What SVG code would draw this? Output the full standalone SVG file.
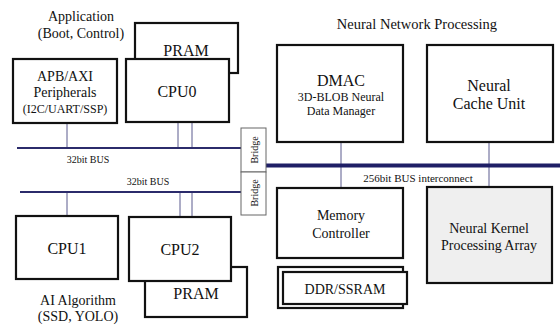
<svg xmlns="http://www.w3.org/2000/svg" width="560" height="325" viewBox="0 0 560 325">
<style>
text{font-family:'Liberation Serif','Times New Roman',serif;fill:#111;text-anchor:middle}
.box{fill:#fff;stroke:#111;stroke-width:2.2}
.gray{fill:#efefef;stroke:#111;stroke-width:2.2}
.bridge{fill:#fff;stroke:#666;stroke-width:1}
.bus{stroke:#2b2b6b;stroke-width:2;fill:none}
.bigbus{stroke:#1f1f66;stroke-width:4;fill:none}
.conn{stroke:#5a5a8e;stroke-width:1;fill:none}
.t16{font-size:16px}
.t14{font-size:14px}
.t12{font-size:12px}
.t11{font-size:11px}
.t10{font-size:10px}
</style>
<rect width="560" height="325" fill="#fff"/>
<g id="labels">
<text class="t14" x="81" y="21">Application</text>
<text class="t14" x="81" y="38">(Boot, Control)</text>
<text class="t14" x="417" y="29" style="font-size:14.5px">Neural Network Processing</text>
<text class="t14" x="78" y="305">AI Algorithm</text>
<text class="t14" x="78" y="321">(SSD, YOLO)</text>
<text class="t10" x="88" y="163">32bit BUS</text>
<text class="t10" x="148" y="185">32bit BUS</text>
<text class="t11" x="418" y="182">256bit BUS interconnect</text>
</g>
<g id="connectors">
<line class="conn" x1="67" y1="123" x2="67" y2="148"/>
<line class="conn" x1="178" y1="122" x2="178" y2="148"/>
<line class="conn" x1="192" y1="122" x2="192" y2="148"/>
<line class="conn" x1="67" y1="192" x2="67" y2="216"/>
<line class="conn" x1="180" y1="192" x2="180" y2="217"/>
<line class="conn" x1="192" y1="192" x2="192" y2="219"/>
<line class="conn" x1="341" y1="142" x2="341" y2="188"/>
<line class="conn" x1="489" y1="142" x2="489" y2="187"/>
<line class="bus" x1="17" y1="148" x2="242" y2="148"/>
<line class="bus" x1="20" y1="192" x2="241" y2="192"/>
<line class="bigbus" x1="266" y1="165.5" x2="560" y2="165.5"/>
</g>
<g id="pram-top">
<rect class="box" x="135" y="23" width="103" height="50"/>
<text class="t16" x="186" y="56">PRAM</text>
</g>
<g id="apb">
<rect class="box" x="13" y="59" width="104" height="64"/>
<text class="t14" x="65" y="81">APB/AXI</text>
<text class="t14" x="65" y="97">Peripherals</text>
<text class="t12" x="65" y="113">(I2C/UART/SSP)</text>
</g>
<g id="cpu0">
<rect class="box" x="126" y="59" width="103" height="63"/>
<text class="t16" x="177" y="97">CPU0</text>
</g>
<g id="bridge1">
<rect class="bridge" x="241" y="128" width="25" height="44"/>
<text class="t10" transform="translate(257.5,150) rotate(-90)">Bridge</text>
</g>
<g id="bridge2">
<rect class="bridge" x="241" y="172" width="25" height="43"/>
<text class="t10" transform="translate(257.5,193) rotate(-90)">Bridge</text>
</g>
<g id="dmac">
<rect class="box" x="277" y="45" width="126" height="97"/>
<text class="t16" x="341" y="86">DMAC</text>
<text class="t12" x="341" y="101">3D-BLOB Neural</text>
<text class="t12" x="341" y="115">Data Manager</text>
</g>
<g id="cache">
<rect class="box" x="427" y="45" width="126" height="97"/>
<text class="t16" x="489" y="91">Neural</text>
<text class="t16" x="489" y="109">Cache Unit</text>
</g>
<g id="memctrl">
<rect class="box" x="277" y="188" width="126" height="70"/>
<text class="t14" x="341" y="220">Memory</text>
<text class="t14" x="341" y="238">Controller</text>
</g>
<g id="nkpa">
<rect class="gray" x="427" y="187" width="125" height="96"/>
<text class="t14" x="489" y="233">Neural Kernel</text>
<text class="t14" x="489" y="250">Processing Array</text>
</g>
<g id="ddr">
<rect class="box" x="278" y="267" width="125" height="41"/>
<rect class="box" x="283" y="272" width="124" height="32"/>
<text class="t14" x="345" y="294">DDR/SSRAM</text>
</g>
<g id="cpu1">
<rect class="box" x="16" y="216" width="102" height="63"/>
<text class="t16" x="67" y="254">CPU1</text>
</g>
<g id="pram-bottom">
<rect class="box" x="145" y="267" width="102" height="50"/>
<text class="t16" x="196" y="299">PRAM</text>
</g>
<g id="cpu2">
<rect class="box" x="129" y="217" width="102" height="64"/>
<text class="t16" x="180" y="255">CPU2</text>
</g>
</svg>
